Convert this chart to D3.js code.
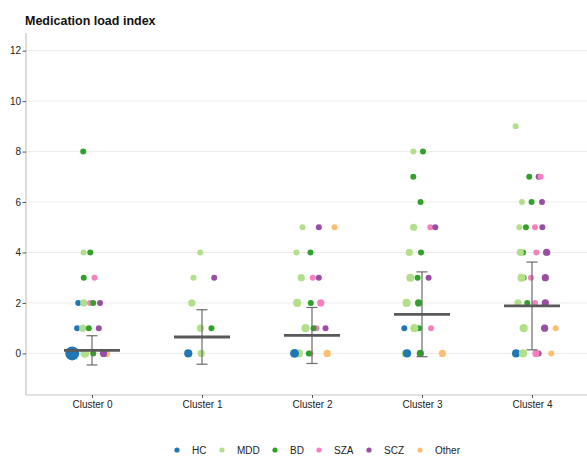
<!DOCTYPE html>
<html>
<head>
<meta charset="utf-8">
<script src="https://cdn.jsdelivr.net/npm/d3@7"></script>
<style>
  body { margin: 0; background: #fff; }
  svg { font-family: "Liberation Sans", Arial, sans-serif; }
</style>
</head>
<body>
<svg id="chart" width="587" height="459"></svg>
<script>
// Medication load index per cluster, points coloured by diagnosis

const clusters = ['Cluster 0', 'Cluster 1', 'Cluster 2', 'Cluster 3', 'Cluster 4'];
const diagnoses = ['HC', 'MDD', 'BD', 'SZA', 'SCZ', 'Other'];
const diagColors = ['#1f78b4', '#b2df8a', '#33a02c', '#f781bf', '#984ea3', '#fdbf6f'];
const yTicks = [0, 2, 4, 6, 8, 10, 12];

// summary per cluster: mean and sd
const clusterMean = [0.12, 0.65, 0.71, 1.55, 1.88];
const clusterSd = [0.58, 1.08, 1.11, 1.68, 1.74];

// points: [cluster index, diagnosis, value, count, jitter (in band steps)]
const points = [
  // Cluster 0
  [0, 'BD', 8, 1, -0.08],
  [0, 'MDD', 4, 1, -0.077], [0, 'BD', 4, 1, -0.016],
  [0, 'BD', 3, 1, -0.075], [0, 'SZA', 3, 1, 0.023],
  [0, 'HC', 2, 1, -0.125], [0, 'MDD', 2, 2, -0.075], [0, 'SZA', 2, 1, -0.018], [0, 'BD', 2, 1, 0.011], [0, 'SCZ', 2, 1, 0.073],
  [0, 'HC', 1, 1, -0.135], [0, 'MDD', 1, 2, -0.084], [0, 'BD', 1, 1, -0.029], [0, 'SCZ', 1, 1, 0.062],
  [0, 'HC', 0, 14, -0.18], [0, 'MDD', 0, 4, -0.065], [0, 'BD', 0, 1, 0.011], [0, 'Other', 0, 2, 0.132], [0, 'SCZ', 0, 2, 0.105],
  // Cluster 1
  [1, 'MDD', 4, 1, -0.016],
  [1, 'MDD', 3, 1, -0.077], [1, 'SCZ', 3, 1, 0.111],
  [1, 'MDD', 2, 2, -0.093],
  [1, 'MDD', 1, 2, -0.014], [1, 'BD', 1, 1, 0.086],
  [1, 'HC', 0, 3, -0.125], [1, 'MDD', 0, 2, -0.007],
  // Cluster 2
  [2, 'MDD', 5, 1, -0.086], [2, 'SCZ', 5, 1, 0.062], [2, 'Other', 5, 1, 0.205],
  [2, 'MDD', 4, 1, -0.141], [2, 'BD', 4, 1, -0.014],
  [2, 'MDD', 3, 2, -0.098], [2, 'SZA', 3, 1, 0.007], [2, 'SCZ', 3, 1, 0.062],
  [2, 'MDD', 2, 3, -0.135], [2, 'BD', 2, 1, -0.011], [2, 'SZA', 2, 2, 0.08],
  [2, 'MDD', 1, 3, -0.059], [2, 'SZA', 1, 1, 0.041], [2, 'BD', 1, 1, 0.014], [2, 'SCZ', 1, 1, 0.123],
  [2, 'MDD', 0, 3, -0.12], [2, 'HC', 0, 4, -0.159], [2, 'SZA', 0, 1, -0.014], [2, 'BD', 0, 1, -0.029], [2, 'Other', 0, 2, 0.138],
  // Cluster 3
  [3, 'MDD', 8, 1, -0.079], [3, 'BD', 8, 1, 0.009],
  [3, 'BD', 7, 1, -0.079],
  [3, 'BD', 6, 1, -0.013],
  [3, 'MDD', 5, 2, -0.076], [3, 'SZA', 5, 1, 0.075], [3, 'SCZ', 5, 1, 0.121],
  [3, 'MDD', 4, 2, -0.115], [3, 'BD', 4, 1, -0.009],
  [3, 'MDD', 3, 3, -0.106], [3, 'BD', 3, 1, -0.04], [3, 'SCZ', 3, 1, 0.06],
  [3, 'MDD', 2, 3, -0.14], [3, 'BD', 2, 2, -0.031],
  [3, 'HC', 1, 1, -0.161], [3, 'BD', 1, 1, -0.027], [3, 'MDD', 1, 3, -0.07], [3, 'SZA', 1, 1, 0.082],
  [3, 'MDD', 0, 2, -0.152], [3, 'HC', 0, 3, -0.136], [3, 'BD', 0, 2, -0.015], [3, 'Other', 0, 2, 0.185],
  // Cluster 4
  [4, 'MDD', 9, 1, -0.149],
  [4, 'BD', 7, 1, -0.025], [4, 'SCZ', 7, 1, 0.06], [4, 'SZA', 7, 1, 0.078],
  [4, 'MDD', 6, 1, -0.091], [4, 'BD', 6, 1, -0.004], [4, 'SCZ', 6, 1, 0.091],
  [4, 'MDD', 5, 1, -0.115], [4, 'BD', 5, 1, -0.055], [4, 'SZA', 5, 1, 0.027], [4, 'SCZ', 5, 1, 0.094],
  [4, 'BD', 4, 1, -0.082], [4, 'MDD', 4, 2, -0.106], [4, 'SZA', 4, 1, 0.039], [4, 'SCZ', 4, 2, 0.133],
  [4, 'BD', 3, 1, -0.076], [4, 'MDD', 3, 3, -0.095], [4, 'SZA', 3, 1, -0.009], [4, 'SCZ', 3, 2, 0.121],
  [4, 'MDD', 2, 2, -0.127], [4, 'BD', 2, 1, -0.043], [4, 'SZA', 2, 1, 0.027], [4, 'SCZ', 2, 2, 0.121],
  [4, 'MDD', 1, 3, -0.076], [4, 'SCZ', 1, 2, 0.115], [4, 'Other', 1, 1, 0.215],
  [4, 'HC', 0, 3, -0.145], [4, 'MDD', 0, 3, -0.082], [4, 'SCZ', 0, 1, 0.06], [4, 'SZA', 0, 2, 0.036], [4, 'Other', 0, 1, 0.175]
];

const svg = d3.select('#chart');
const panel = { left: 26, right: 598, top: 33, bottom: 395 };

const x = d3.scalePoint()
    .domain(clusters)
    .range([panel.left, panel.right])
    .padding(0.6);

const y = d3.scaleLinear()
    .domain([-1.65, 12.7])
    .range([panel.bottom, panel.top]);

const color = d3.scaleOrdinal().domain(diagnoses).range(diagColors);
const size = d3.scaleSqrt().domain([1, 14]).range([3, 7]);

// gridlines
svg.append('g')
    .selectAll('line')
    .data(yTicks)
    .enter()
    .append('line')
    .attr('x1', panel.left)
    .attr('x2', panel.right)
    .attr('y1', d => y(d))
    .attr('y2', d => y(d))
    .attr('stroke', '#ebebeb')
    .attr('stroke-width', 1);

// points
svg.append('g')
    .selectAll('circle')
    .data(points)
    .enter()
    .append('circle')
    .attr('cx', d => x(clusters[d[0]]) + d[4] * x.step())
    .attr('cy', d => y(d[2]))
    .attr('r', d => size(d[3]))
    .attr('fill', d => color(d[1]));

// error bars (mean +/- sd)
const summary = clusters.map((c, i) => ({ c, mean: clusterMean[i], sd: clusterSd[i] }));
const eb = svg.append('g');
const cap = 5.5;
eb.selectAll('.eb-v')
    .data(summary)
    .enter()
    .append('line')
    .attr('x1', d => x(d.c))
    .attr('x2', d => x(d.c))
    .attr('y1', d => y(d.mean - d.sd))
    .attr('y2', d => y(d.mean + d.sd))
    .attr('stroke', '#6b6b6b')
    .attr('stroke-width', 1.2);
['top', 'bottom'].forEach(k => {
    eb.selectAll('.eb-' + k)
        .data(summary)
        .enter()
        .append('line')
        .attr('x1', d => x(d.c) - cap)
        .attr('x2', d => x(d.c) + cap)
        .attr('y1', d => y(k === 'top' ? d.mean + d.sd : d.mean - d.sd))
        .attr('y2', d => y(k === 'top' ? d.mean + d.sd : d.mean - d.sd))
        .attr('stroke', '#6b6b6b')
        .attr('stroke-width', 1.2);
});

// mean bars
svg.append('g')
    .selectAll('line')
    .data(summary)
    .enter()
    .append('line')
    .attr('x1', d => x(d.c) - 28)
    .attr('x2', d => x(d.c) + 28)
    .attr('y1', d => y(d.mean))
    .attr('y2', d => y(d.mean))
    .attr('stroke', '#595959')
    .attr('stroke-width', 2.8);

// axes
const yAxis = svg.append('g')
    .attr('transform', `translate(${panel.left},0)`)
    .call(d3.axisLeft(y).tickValues(yTicks).tickSize(3.5).tickPadding(1.5));
const xAxis = svg.append('g')
    .attr('transform', `translate(0,${panel.bottom})`)
    .call(d3.axisBottom(x).tickSize(3).tickPadding(3));

[yAxis, xAxis].forEach(a => {
    a.select('.domain').attr('stroke', '#c4c4c4').attr('stroke-width', 1.2);
    a.selectAll('.tick line').attr('stroke', '#555');
    a.selectAll('.tick text')
        .attr('fill', '#222')
        .style('font-size', '10px')
        .style('font-family', '"Liberation Sans", Arial, sans-serif');
});
yAxis.select('.domain').attr('d', `M0,${panel.top}V${panel.bottom}`);
xAxis.select('.domain').attr('d', `M${panel.left},0H${panel.right}`);

// title
svg.append('text')
    .attr('x', 25)
    .attr('y', 25)
    .style('font-size', '12.5px')
    .style('font-weight', 'bold')
    .attr('fill', '#111')
    .text('Medication load index');

// legend
const legendX = [177, 222, 275, 319, 369, 420];
const legend = svg.append('g')
    .selectAll('g')
    .data(diagnoses)
    .enter()
    .append('g')
    .attr('transform', (d, i) => `translate(${legendX[i]},450)`);
legend.append('circle')
    .attr('r', 2.6)
    .attr('fill', d => color(d));
legend.append('text')
    .attr('x', 15)
    .attr('y', 3.5)
    .style('font-size', '10px')
    .attr('fill', '#222')
    .text(d => d);
</script>
</body>
</html>
